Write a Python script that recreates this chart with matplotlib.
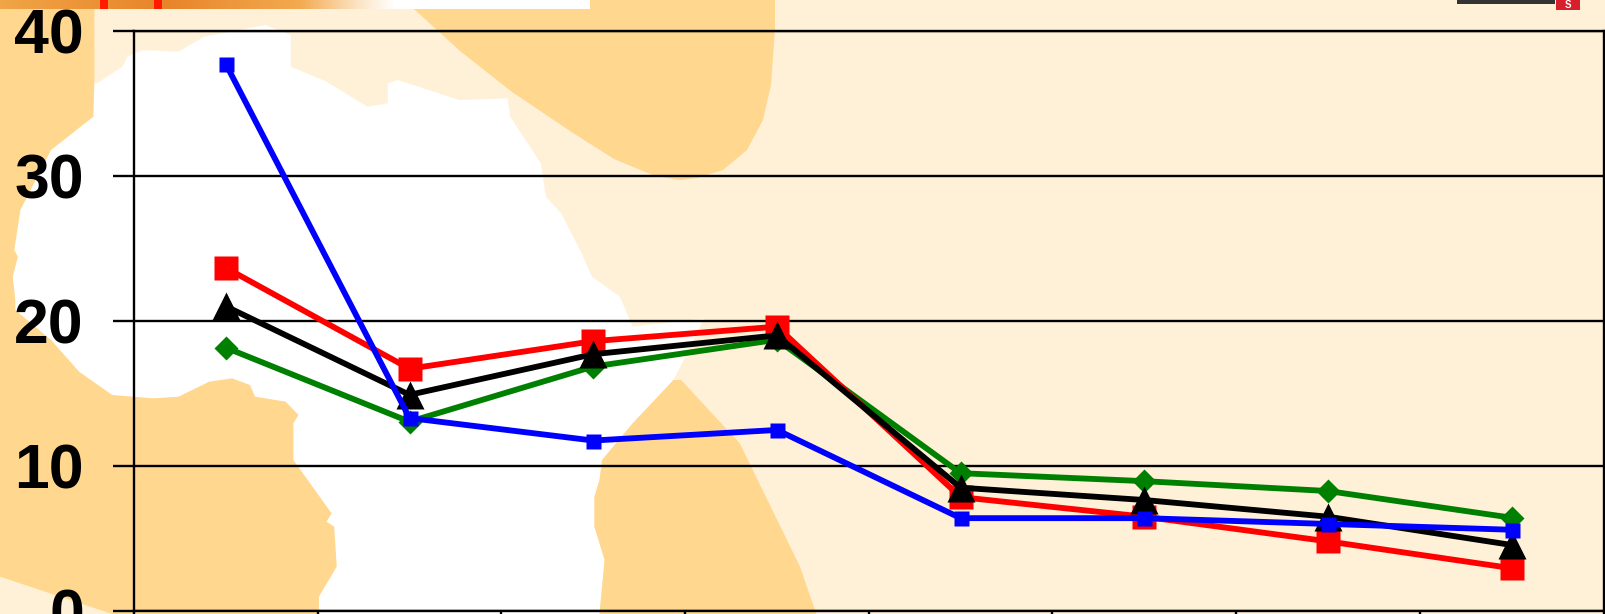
import numpy as np
import matplotlib
matplotlib.use('Agg')
import matplotlib.pyplot as plt
from matplotlib.patches import Polygon, Rectangle
from matplotlib.transforms import ScaledTranslation

plt.rcParams['font.family'] = ['Liberation Sans', 'DejaVu Sans']

# values
red_vals = [23.65, 16.7, 18.6, 19.6, 7.85, 6.5, 4.8, 2.95]
green_vals = [18.15, 13.05, 16.85, 18.7, 9.5, 8.95, 8.27, 6.43]
black_vals = [21.0, 14.9, 17.7, 19.0, 8.5, 7.65, 6.5, 4.55]
blue_vals = [37.7, 13.3, 11.75, 12.48, 6.4, 6.4, 6.0, 5.6]
y_ticks = [0, 10, 20, 30, 40]

W, H = 1605, 614
CREAM = '#FFF1D8'
DARK = '#FFD78E'

fig = plt.figure(figsize=(W / 100, H / 100), dpi=100)
fig.patch.set_facecolor(CREAM)

# background map, drawn in pixels of the slide
bg = fig.add_axes([0, 0, 1, 1], zorder=0)
bg.axis('off')

def crop1(pts):
    return [(x / 1.96, y / 3) for x, y in pts]

def crop2(pts):
    return [(x / 1.96, 300 + y / 3) for x, y in pts]

# white land
white_land = [(0, 83)] + \
    crop1([(190, 250), (240, 200), (250, 170), (280, 150), (350, 155), (400, 110),
           (520, 75), (570, 105), (570, 200), (640, 245), (720, 320), (760, 310), (760, 250),
           (780, 240), (900, 300), (995, 295), (1000, 350), (1060, 490), (1070, 590),
           (1100, 640), (1140, 760), (1160, 830), (1215, 890)]) + \
    crop2([(1240, 80), (1380, 55), (1340, 180), (1320, 240), (1240, 370), (1180, 480), (1175, 540),
           (1165, 590), (1165, 680), (1185, 780), (1175, 942)]) + [(319, 614), (0, 560)]
bg.add_patch(Polygon(white_land, fc='white', ec='none'))

# dark shape on the left
left_dark = [(0, 0)] + \
    crop1([(185, 0), (185, 240), (183, 350), (100, 450), (40, 630), (28, 750),
           (35, 770), (25, 830), (30, 900)]) + \
    crop2([(30, 30), (100, 120), (155, 215), (220, 285), (300, 295), (350, 290), (410, 245), (455, 235),
           (490, 255), (500, 290), (560, 305), (585, 345), (575, 370), (575, 480), (650, 640), (640, 665),
           (655, 680), (660, 800), (625, 890), (625, 942), (220, 942), (0, 830)])
bg.add_patch(Polygon(left_dark, fc=DARK, ec='none'))

# dark shape top middle
top_dark = [(415, 10), (460, 51), (512, 92), (573, 133), (614, 159), (655, 176), (680, 180), (697, 178),
            (723, 170), (747, 150), (763, 120), (771, 85), (775, 30), (775, 0), (400, 0)]
bg.add_patch(Polygon(top_dark, fc=DARK, ec='none'))

# dark shape bottom middle
low_dark = crop2([(1175, 942), (1185, 780), (1165, 680), (1165, 590), (1175, 540), (1180, 480), (1240, 370),
                  (1320, 240), (1335, 240), (1450, 430), (1568, 800), (1600, 942)])
bg.add_patch(Polygon(low_dark, fc=DARK, ec='none'))

# top band fading out
band_x = np.linspace(0, 395, 400)
band_r = np.interp(band_x, [0, 166, 300, 355, 395], [240, 232, 243, 252, 255]) / 255
band_g = np.interp(band_x, [0, 166, 300, 355, 395], [165, 132, 170, 225, 255]) / 255
band_b = np.interp(band_x, [0, 166, 300, 355, 395], [70, 42, 80, 190, 255]) / 255
band = np.dstack([band_r, band_g, band_b]).reshape(1, -1, 3)
bg.imshow(band, extent=(0, 395, 9, 0), aspect='auto', zorder=2)
bg.add_patch(Rectangle((395, 0), 195, 9, fc='white', ec='none', zorder=2))
bg.add_patch(Rectangle((100, 0), 7.5, 9, fc='#FF1A00', ec='none', zorder=3))
bg.add_patch(Rectangle((154, 0), 7.5, 9, fc='#FF1A00', ec='none', zorder=3))
bg.set_xlim(0, W)
bg.set_ylim(H, 0)

# cut off logo in the corner
bg.add_patch(Rectangle((1457, 0), 98, 3.5, fc='#333333', ec='none', zorder=2))
bg.add_patch(Rectangle((1556, 0), 24, 10, fc='#D8202C', ec='none', zorder=2))
bg.text(1568, 5, 'S', color='white', fontsize=7, fontweight='bold', ha='center', va='center', zorder=3)

# the chart
left, right, top, bottom = 134, 1603.5, 30.7, 611
ax = fig.add_axes([left / W, 1 - bottom / H, (right - left) / W, (bottom - top) / H], zorder=1)
ax.patch.set_alpha(0)

x = np.arange(len(red_vals)) + 0.5
LW = 4.2
ax.plot(x, green_vals, color='#008000', lw=LW, marker='D', ms=12.5, mec='none', clip_on=False)
ax.plot(x, red_vals, color='#FF0000', lw=LW, marker='s', ms=17.5, mec='none', clip_on=False)
ax.plot(x, black_vals, color='black', lw=LW, marker='^', ms=20, mec='none', clip_on=False)
ax.plot(x, blue_vals, color='#0000FF', lw=LW, marker='s', ms=10.8, mec='none', clip_on=False)

ax.set_xlim(0, 8)
ax.set_ylim(0, 40)
ax.set_xticks(range(9))
ax.set_xticklabels([])
ax.set_yticks(y_ticks)
ax.set_yticklabels([str(v) for v in y_ticks], fontsize=45, fontweight='bold')
# labels sit a little high in the original
for lab in ax.get_yticklabels():
    lab.set_transform(lab.get_transform() + ScaledTranslation(0, 2 / 72, fig.dpi_scale_trans))
ax.tick_params(axis='y', length=15, width=1.7, pad=21, color='black')
ax.tick_params(axis='x', length=4, width=1.7, color='black')
ax.grid(axis='y', color='black', lw=1.7)
ax.set_axisbelow(True)
for s in ax.spines.values():
    s.set_linewidth(1.7)
    s.set_color('black')

fig.savefig('out.png', dpi=100, facecolor=fig.get_facecolor())
